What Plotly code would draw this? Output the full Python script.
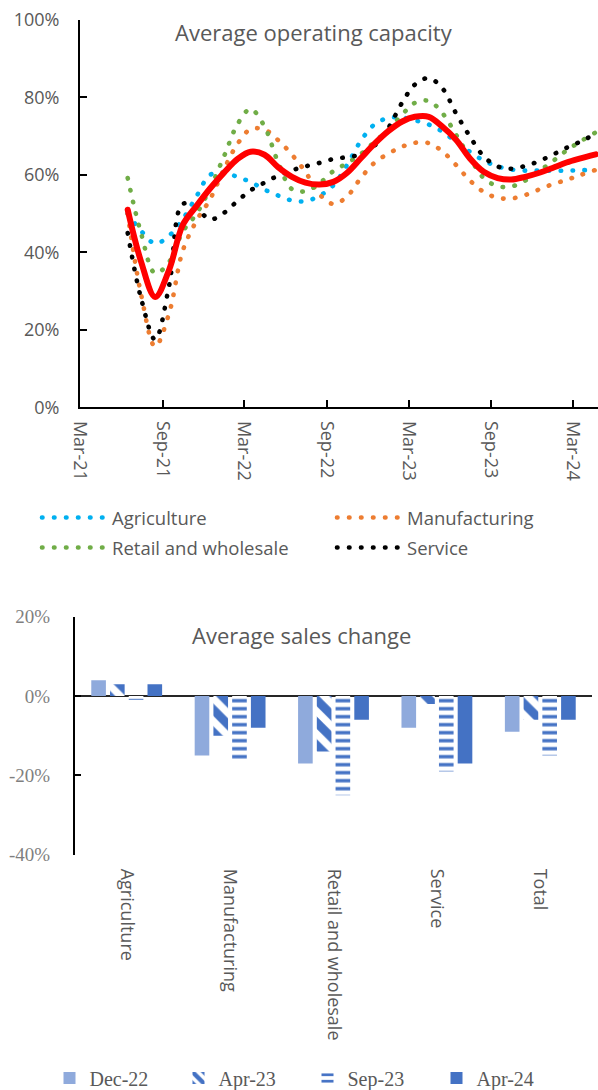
import plotly.graph_objects as go

# ---------------- data: top chart ----------------
dates = ["2021-06-15", "2021-07-15", "2021-08-15", "2021-09-15", "2021-10-15", "2021-11-15", "2021-12-15",
         "2022-01-15", "2022-02-15", "2022-03-15", "2022-04-15", "2022-05-15", "2022-06-15", "2022-07-15",
         "2022-08-15", "2022-09-15", "2022-10-15", "2022-11-15", "2022-12-15",
         "2023-01-15", "2023-02-15", "2023-03-15", "2023-04-15", "2023-05-15", "2023-06-15", "2023-07-15",
         "2023-08-15", "2023-09-15", "2023-10-15", "2023-11-15", "2023-12-15",
         "2024-01-15", "2024-02-15", "2024-03-15", "2024-04-20"]
agriculture = [50, 45.5, 42.3, 44.3, 48.5, 54.5, 60, 60.6, 59.4, 58.2, 56.2, 54.7, 53.4, 53.2, 54.6, 57.3, 62.5,
               68.8, 73, 74.7, 74.8, 74.1, 73, 71.2, 68.5, 66, 63.7, 62.2, 61.4, 61.1, 61.1, 61.1, 61.1, 61.2, 61.3]
manufacturing = [50, 29, 15.7, 24.3, 40.3, 48.2, 53.7, 61.5, 68.2, 71.8, 71.7, 69, 65.2, 60.8, 55, 52.5, 54.4,
                 59.2, 63.1, 65.5, 67.3, 68.3, 68.2, 66.1, 62.5, 58.6, 55.6, 54.1, 53.9, 54.8, 56.2, 57.6, 58.7,
                 59.9, 61.3]
retail = [59.2, 44.8, 34.6, 37.5, 45.3, 50, 56.5, 64.8, 73.3, 77, 72.5, 63.3, 56.3, 55.8, 57.8, 61, 63, 65.4,
          68.5, 71.6, 75.6, 78.6, 79.1, 76, 70.3, 64.5, 59.2, 57.1, 57, 58.5, 60.9, 63.5, 66.3, 68.5, 71]
service = [45, 28, 17.5, 31.4, 52.5, 51.4, 48.5, 50.2, 53.4, 56, 58, 59.8, 61.2, 62.2, 63.1, 64.1, 64.6, 65.3,
           67.5, 72.1, 78.7, 83.3, 85, 82.4, 75.8, 70, 64.8, 62.2, 61.6, 62.3, 63.5, 65.2, 67, 68.5, 70.6]
average = [51, 37.5, 28.5, 35.5, 47, 52, 56.5, 60.6, 64.2, 66, 65.2, 62, 59.5, 58, 57.5, 58.2, 60.5, 64.3, 68,
           71.3, 73.8, 75, 75, 72.5, 69, 64.3, 60.8, 59.2, 58.8, 59.5, 60.5, 61.8, 63.2, 64.2, 65.3]

line_names = ["Agriculture", "Manufacturing", "Retail and wholesale", "Service"]
line_values = [agriculture, manufacturing, retail, service]
line_colors = ["#00B0F0", "#ED7D31", "#70AD47", "#000000"]
line_legends = ["legend", "legend", "legend3", "legend3"]

# ---------------- data: bottom chart ----------------
categories = ["Agriculture", "Manufacturing", "Retail and wholesale", "Service", "Total"]
dec22 = [4, -15, -17, -8, -9]
apr23 = [3, -10, -14, -2, -6]
sep23 = [-1, -16, -25, -19, -15]
apr24 = [3, -8, -6, -17, -6]
sales_tickvals = [-40, -20, 0, 20]
sales_ticktext = ["-40%", "-20%", "0%", "20%"]

W, H = 598, 1090
SANS = "Open Sans"
SERIF = "Liberation Serif"
GRAY = "#595959"

fig = go.Figure()

for name, vals, col, lg in zip(line_names, line_values, line_colors, line_legends):
    fig.add_trace(go.Scatter(
        x=dates, y=vals, name=name, mode="lines", xaxis="x", yaxis="y",
        line=dict(color=col, width=4.6, dash="0.5px,11.5px", shape="spline", smoothing=1),
        legend=lg))

fig.add_trace(go.Scatter(
    x=dates, y=average, name="Average", mode="lines", xaxis="x", yaxis="y",
    line=dict(color="#FF0000", width=6, shape="spline", smoothing=1), showlegend=False))

bar_specs = [
    ("Dec-22", dec22, dict(color="#8FAADC")),
    ("Apr-23", apr23, dict(color="#4472C4", pattern=dict(shape="\\", fgcolor="#4472C4", bgcolor="white",
                                                         size=16, solidity=0.55, fillmode="replace"))),
    ("Sep-23", sep23, dict(color="#4472C4", pattern=dict(shape="-", fgcolor="#4472C4", bgcolor="white",
                                                         size=8, solidity=0.42, fillmode="replace"))),
    ("Apr-24", apr24, dict(color="#4472C4")),
]
for name, vals, mk in bar_specs:
    mk = dict(mk)
    mk["line"] = dict(width=0)
    fig.add_trace(go.Bar(x=categories, y=vals, name=name, xaxis="x2", yaxis="y2", marker=mk,
                         legend="legend2"))


def py(px):
    return 1 - px / H


top_legend = dict(orientation="h", xanchor="left", yanchor="middle",
                  entrywidthmode="pixels", entrywidth=215, itemwidth=65,
                  font=dict(family=SANS, size=18.5, color=GRAY), bgcolor="rgba(0,0,0,0)")

fig.update_layout(
    width=W, height=H, autosize=False,
    margin=dict(l=0, r=0, t=0, b=0, autoexpand=False),
    paper_bgcolor="white", plot_bgcolor="white",
    font=dict(family=SANS, color=GRAY, size=18),
    barmode="group", bargap=0.275, bargroupgap=0.22,
    xaxis=dict(domain=[80 / W, 1.0], anchor="y", type="date", automargin=False,
               range=["2021-03-01", "2024-04-25"], tick0="2021-03-01", dtick="M6",
               tickformat="%b-%y", tickangle=90, ticks="inside", ticklen=7, tickwidth=2,
               tickcolor="black", showline=True, linecolor="black", linewidth=2,
               showgrid=False, zeroline=False, ticklabelstandoff=8,
               tickfont=dict(family=SANS, size=18, color=GRAY)),
    yaxis=dict(domain=[py(407.3), py(20)], anchor="x", range=[0, 100], dtick=20, ticksuffix="%",
               automargin=False,
               ticks="inside", ticklen=7, tickwidth=2, tickcolor="black", showline=True,
               linecolor="black", linewidth=2, showgrid=False, zeroline=False, ticklabelstandoff=15,
               tickfont=dict(family=SANS, size=18, color=GRAY)),
    xaxis2=dict(domain=[75 / W, 592 / W], anchor="y2", type="category", showline=False, ticks="",
                automargin=False,
                tickangle=90, showgrid=False, ticklabelstandoff=13,
                tickfont=dict(family=SANS, size=18, color=GRAY)),
    yaxis2=dict(domain=[py(854.7), py(616.7)], anchor="x2", range=[-40, 20],
                tickmode="array", tickvals=sales_tickvals, ticktext=sales_ticktext,
                automargin=False,
                ticks="inside", ticklen=6, tickwidth=2, tickcolor="black", showline=True,
                linecolor="black", linewidth=2, showgrid=False, zeroline=True,
                zerolinecolor="#262626", zerolinewidth=2, ticklabelstandoff=19,
                tickfont=dict(family=SERIF, size=19, color="#7F7F7F")),
    legend=dict(top_legend, x=37 / W, y=py(518)),
    legend3=dict(top_legend, x=37 / W, y=py(548)),
    legend2=dict(orientation="h", x=49.5 / W, xanchor="left", y=py(1078), yanchor="middle",
                 entrywidthmode="pixels", entrywidth=84,
                 font=dict(family=SERIF, size=20, color=GRAY), bgcolor="rgba(0,0,0,0)"),
    annotations=[
        dict(text="Average operating capacity", x=313.5 / W, y=py(32), xref="paper", yref="paper",
             showarrow=False, xanchor="center", yanchor="middle",
             font=dict(family=SANS, size=22, color=GRAY)),
        dict(text="Average sales change", x=301 / W, y=py(635), xref="paper", yref="paper",
             showarrow=False, xanchor="center", yanchor="middle",
             font=dict(family=SANS, size=22, color=GRAY)),
    ],
)

# remove default page margin; round dots for the dotted series (Excel "round dot" style)
post = ("document.body.style.margin='0';"
        "document.querySelectorAll('path.js-line').forEach(function(p){"
        "p.style.strokeLinecap='round';});")
fig.write_html("out.html", post_script=post, config={"displayModeBar": False})
